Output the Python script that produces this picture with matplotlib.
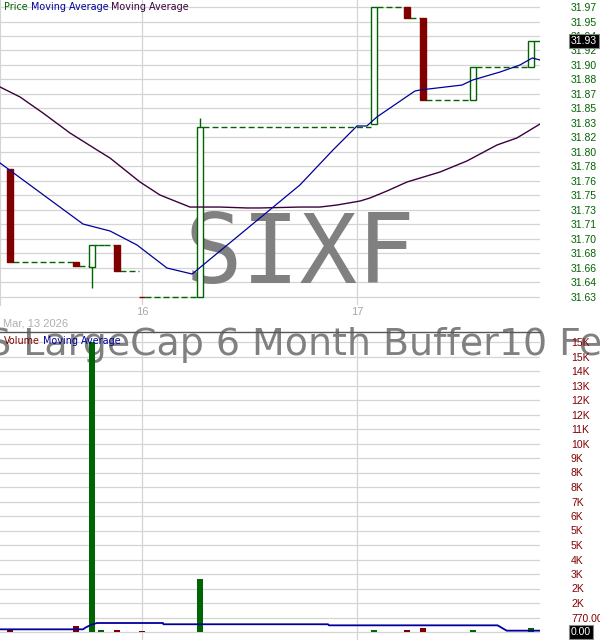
import matplotlib
matplotlib.use('Agg')
import matplotlib.pyplot as plt
import numpy as np
from matplotlib.transforms import blended_transform_factory

plt.rcParams['lines.scale_dashes'] = False
plt.rcParams['font.family'] = ['Liberation Sans', 'DejaVu Sans']

# ---------------- data ----------------
# x positions are 15-minute slots counted from the open of day "16"
slots = [-16, -8, -6, -5, -3, 0, 7, 28, 32, 34, 40, 47]
opens = [31.778, 31.668, 31.6625, 31.6885, 31.6885, 31.6275, 31.627, 31.832, 31.970, 31.957, 31.860, 31.899]
highs = [31.778, 31.668, 31.6885, 31.6885, 31.6885, 31.6275, 31.839, 31.970, 31.970, 31.957, 31.899, 31.930]
lows = [31.668, 31.664, 31.638, 31.6885, 31.658, 31.627, 31.627, 31.832, 31.957, 31.860, 31.860, 31.899]
closes = [31.668, 31.664, 31.6885, 31.6885, 31.658, 31.627, 31.828, 31.970, 31.957, 31.860, 31.899, 31.930]
volumes = [160, 320, 15400, 106, 106, 40, 2815, 106, 106, 200, 106, 200]

ma_fast_x = [-17.17, -7.13, -3.87, -0.60, 3.02, 6.05, 6.65, 19.1, 23.1, 26.0, 27.2, 28.4,
             33.0, 33.6, 38.7, 40.0, 43.3, 45.7, 47.2, 48.13]
ma_fast_y = [31.7855, 31.7133, 31.7051, 31.6885, 31.6613, 31.6542, 31.6589, 31.7595, 31.8009,
             31.8293, 31.8293, 31.8399, 31.8706, 31.8718, 31.8777, 31.8837, 31.8931, 31.9014,
             31.9097, 31.9073]

ma_slow_x = [-17.17, -14.75, -11.97, -8.71, -5.44, -3.87, -0.24, 2.18, 5.80, 9.43, 12.70, 14.27,
             19.11, 21.52, 23.58, 26.36, 27.57, 29.63, 32.04, 36.03, 39.30, 42.93, 45.34, 48.13]
ma_slow_y = [31.8754, 31.8636, 31.8446, 31.8210, 31.8009, 31.7914, 31.7630, 31.7476, 31.7334,
             31.7334, 31.7323, 31.7323, 31.7334, 31.7334, 31.7358, 31.7405, 31.7441, 31.7524,
             31.7630, 31.7748, 31.7879, 31.8068, 31.8151, 31.8316]

vol_ma_x = [-17.17, -7.13, -6.77, -6.05, -5.44, 2.54, 2.60, 22.5, 22.6, 43.0, 44.1, 48.13]
vol_ma_y = [142, 142, 250, 400, 478, 478, 411, 411, 354, 354, 71, 71]

day_slots = [0, 26]
day_labels = ['16', '17']
date_label = 'Mar, 13 2026'

price_labels = ['31.63', '31.64', '31.66', '31.68', '31.70', '31.71', '31.73', '31.75', '31.76',
                '31.78', '31.80', '31.82', '31.83', '31.85', '31.87', '31.88', '31.90', '31.92',
                '31.94', '31.95', '31.97']
price_lo, price_hi = 31.627, 31.97
vol_labels = ['0.00', '770.00', '2K', '2K', '3K', '4K', '5K', '5K', '6K', '7K', '8K', '8K', '9K',
              '10K', '11K', '12K', '12K', '13K', '14K', '15K', '15K']
vol_step = 770

ticker = 'SIXF'
name_prefix = 'AllianzIM U.S '
name_rest = 'LargeCap 6 Month Buffer10 Feb/Aug ETF'

# ---------------- style ----------------
GREEN = '#006400'
RED = '#800000'
BLUE = '#00009a'
PURPLE = '#3c003c'
GRID = '#d4d4d4'
W = 0.72

fig = plt.figure(figsize=(6, 6.4), dpi=100)
ax_p = fig.add_axes([0, 1 - 305 / 640, 540 / 600, 305 / 640])
ax_v = fig.add_axes([0, 0, 540 / 600, 308 / 640])

xlim = (-17.17, 48.13)
k = (price_hi - price_lo) / 20 / 14.5
ax_p.set_xlim(*xlim)
ax_p.set_ylim(price_lo - 8 * k, price_hi + 7 * k)
kv = vol_step / 14.5
ax_v.set_xlim(*xlim)
ax_v.set_ylim(-8 * kv, 300 * kv)

price_ticks = np.linspace(price_lo, price_hi, len(price_labels))
vol_ticks = [vol_step * i for i in range(len(vol_labels))]

# grid lines (manual so they sit beneath the watermark)
for t in price_ticks:
    ax_p.axhline(t, color=GRID, lw=0.9, zorder=0.2)
for t in vol_ticks:
    ax_v.axhline(t, color=GRID, lw=0.9, zorder=0.2)
for d in day_slots:
    ax_p.axvline(d, color=GRID, lw=0.9, zorder=0.2)
    ax_v.axvline(d, color=GRID, lw=0.9, zorder=0.2)

# watermarks
ax_p.text(0.5, 1 - 283 / 640, ticker, transform=fig.transFigure, ha='center', va='baseline',
          fontsize=69, family='DejaVu Sans Mono', color='#808080', zorder=1)

WM_SIZE = 27.3
renderer = fig.canvas.get_renderer()
probe = fig.text(0, 0, name_prefix, fontsize=WM_SIZE, family='DejaVu Sans')
prefix_w = probe.get_window_extent(renderer=renderer).width
probe.remove()
ax_v.text((23 - prefix_w) / 600, 1 - 355 / 640, name_prefix + name_rest, transform=fig.transFigure,
          ha='left', va='baseline', fontsize=WM_SIZE, family='DejaVu Sans', color='#808080',
          zorder=1, clip_on=False)

# candles
n = len(slots)
for i in range(n):
    up = closes[i] >= opens[i]
    col = GREEN if up else RED
    ax_p.vlines(slots[i], lows[i], highs[i], color=col, lw=1.0, zorder=3)
    bottom = min(opens[i], closes[i])
    height = abs(closes[i] - opens[i])
    ax_p.bar(slots[i], height, bottom=bottom, width=W,
             facecolor='white' if up else RED, edgecolor=col, lw=1.0, zorder=4)
    x0 = slots[i] + W / 2
    x1 = slots[i + 1] - W / 2 if i + 1 < n else xlim[1]
    ax_p.hlines(closes[i], x0, x1, color=GREEN, lw=1.0, linestyles=(0, (4.3, 2.2)), zorder=3)

ax_p.plot(ma_slow_x, ma_slow_y, color=PURPLE, lw=1.0, zorder=5)
ax_p.plot(ma_fast_x, ma_fast_y, color=BLUE, lw=0.9, zorder=5)

# volume
vcols = [GREEN if c >= o else RED for o, c in zip(opens, closes)]
ax_v.bar(slots, volumes, width=W, color=vcols, zorder=3)
ax_v.plot(vol_ma_x, vol_ma_y, color=BLUE, lw=1.3, zorder=5)

# axes styling
for ax in (ax_p, ax_v):
    for s in ax.spines.values():
        s.set_visible(False)
    ax.set_facecolor('white')
    ax.yaxis.tick_right()
ax_p.spines['left'].set_visible(True)
ax_p.spines['left'].set_color(GRID)
ax_v.spines['top'].set_visible(True)
ax_v.spines['top'].set_color('#555555')
ax_v.spines['top'].set_linewidth(1.0)

ax_p.set_yticks(price_ticks)
ax_p.set_yticklabels(price_labels)
ax_p.tick_params(axis='y', length=0, pad=22.3, labelcolor=GREEN, labelsize=7.5)
ax_p.set_xticks(day_slots)
ax_p.set_xticklabels(day_labels)
ax_p.tick_params(axis='x', length=0, pad=1.5, labelcolor='#a8a8a8', labelsize=8)

ax_v.set_yticks(vol_ticks)
ax_v.set_yticklabels(vol_labels)
ax_v.tick_params(axis='y', length=0, pad=22.3, labelcolor=RED, labelsize=7.5)
ax_v.set_xticks(day_slots)
ax_v.tick_params(axis='x', length=0, labelbottom=False)

# current value boxes
tr_p = blended_transform_factory(ax_p.transAxes, ax_p.transData)
ax_p.text(571 / 540, closes[-1], f'{closes[-1]:.2f}', transform=tr_p, ha='left', va='center',
          fontsize=7.5, color='white', zorder=10, clip_on=False,
          bbox=dict(boxstyle='square,pad=0.2', facecolor='black', edgecolor='#888888', lw=0.8))
tr_v = blended_transform_factory(ax_v.transAxes, ax_v.transData)
ax_v.text(571 / 540, 0, '0.00', transform=tr_v, ha='left', va='center',
          fontsize=7.5, color='white', zorder=10, clip_on=False,
          bbox=dict(boxstyle='square,pad=0.2', facecolor='black', edgecolor='#888888', lw=0.8))

# date label
fig.text(3 / 600, 1 - 324 / 640, date_label, fontsize=8, color='#b0b0b0', ha='left', va='center')

# legends / titles
def chain(ax, parts, x, y):
    t = ax.text(x, y, parts[0][0], transform=fig.transFigure, color=parts[0][1], fontsize=6.9,
                family='DejaVu Sans', ha='left', va='center', zorder=12)
    for s, c in parts[1:]:
        t = ax.annotate(s, xy=(1, 0), xycoords=t, color=c, fontsize=6.9, family='DejaVu Sans',
                        ha='left', va='bottom', zorder=12, annotation_clip=False)

chain(ax_p, [('Price', GREEN), (' Moving Average', BLUE), (' Moving Average', PURPLE)],
      4 / 600, 1 - 7 / 640)
chain(ax_v, [('Volume', RED), (' Moving Average', BLUE)], 4 / 600, 1 - 341 / 640)

fig.savefig('out.png', dpi=100)
